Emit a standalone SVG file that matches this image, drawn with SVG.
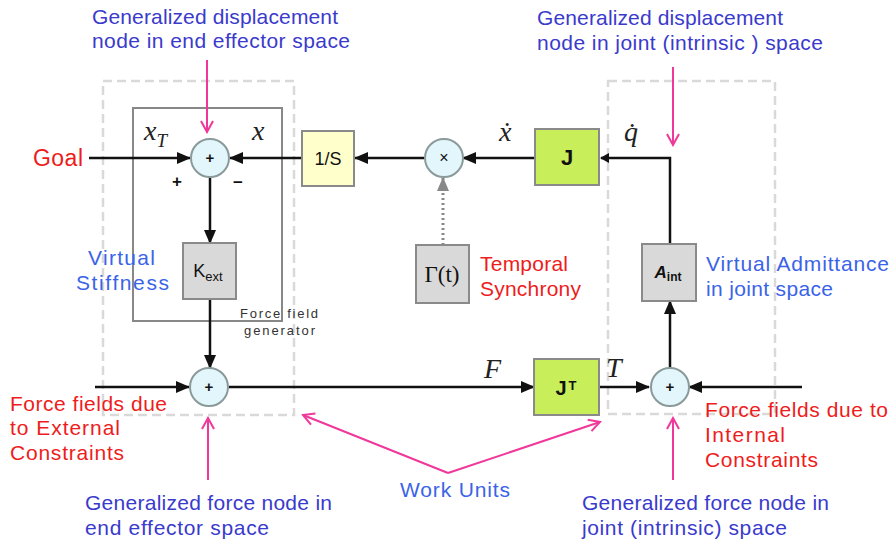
<svg xmlns="http://www.w3.org/2000/svg" width="892" height="542" viewBox="0 0 892 542">
<defs>
<marker id="ah" markerWidth="14" markerHeight="12" refX="13" refY="6" orient="auto" markerUnits="userSpaceOnUse"><path d="M0,0 L14,6 L0,12 Z" fill="#111"/></marker>
<marker id="ahs" markerWidth="9" markerHeight="10" refX="8" refY="5" orient="auto" markerUnits="userSpaceOnUse"><path d="M0,0 L9,5 L0,10 Z" fill="#111"/></marker>
<marker id="ahg" markerWidth="14" markerHeight="12" refX="13" refY="6" orient="auto" markerUnits="userSpaceOnUse"><path d="M0,0 L14,6 L0,12 Z" fill="#888"/></marker>
<marker id="ahp" markerWidth="14" markerHeight="14" refX="12" refY="7" orient="auto" markerUnits="userSpaceOnUse"><path d="M1,1 L12,7 L1,13" fill="none" stroke="#f0389a" stroke-width="2"/></marker>
</defs>
<style>
.t{font-family:"Liberation Sans",Arial,sans-serif;font-size:21px}
.red{fill:#ee1c1c}
.dblue{fill:#3a3acc}
.lblue{fill:#3b63e8}
.m{font-family:"Liberation Serif","DejaVu Serif",serif;font-style:italic;font-size:28px;fill:#222}
.sum{fill:#e2f6fb;stroke:#8a9a9a;stroke-width:2}
.blk{stroke:#8a8a8a;stroke-width:2}
.c{stroke:#111;stroke-width:2.5;fill:none}
.p{stroke:#f0389a;stroke-width:2;fill:none}
.dash{fill:none;stroke:#d9d9d9;stroke-width:2.5;stroke-dasharray:9 5}
.bt{font-family:"Liberation Sans",Arial,sans-serif;fill:#111;text-anchor:middle}
</style>
<rect width="892" height="542" fill="#fff"/>

<g id="dashed-boxes">
<rect class="dash" x="103" y="81" width="191" height="334"/>
<rect class="dash" x="608" y="81" width="167" height="333"/>
</g>
<g id="force-field-generator">
<rect x="133" y="108" width="149" height="213" fill="none" stroke="#888" stroke-width="2"/>
<text class="t" x="240" y="318" textLength="78" style="font-size:13px;fill:#333">Force field</text>
<text class="t" x="244" y="335" textLength="71" style="font-size:13px;fill:#333">generator</text>
</g>

<g id="connectors">
<line class="c" x1="89" y1="158" x2="190" y2="158" marker-end="url(#ah)"/>
<line class="c" x1="302" y1="158" x2="230" y2="158" marker-end="url(#ah)"/>
<line class="c" x1="424" y1="158" x2="355" y2="158" marker-end="url(#ah)"/>
<line class="c" x1="535" y1="158" x2="463" y2="158" marker-end="url(#ah)"/>
<line class="c" x1="210" y1="177" x2="210" y2="243" marker-end="url(#ah)"/>
<line class="c" x1="210" y1="299" x2="210" y2="368" marker-end="url(#ah)"/>
<line class="c" x1="95" y1="387" x2="189" y2="387" marker-end="url(#ah)"/>
<line class="c" x1="229" y1="387" x2="534" y2="387" marker-end="url(#ah)"/>
<line class="c" x1="599" y1="387" x2="649" y2="387" marker-end="url(#ah)"/>
<line class="c" x1="802" y1="387" x2="689" y2="387" marker-end="url(#ah)"/>
<line class="c" x1="670" y1="368" x2="670" y2="301" marker-end="url(#ah)"/>
<polyline class="c" points="670,244 670,158 601,158" marker-end="url(#ahs)"/>
<line x1="443" y1="245" x2="443" y2="178" stroke="#888" stroke-width="3" stroke-dasharray="2 3" marker-end="url(#ahg)"/>
<line class="p" x1="207" y1="60" x2="207" y2="132" marker-end="url(#ahp)"/>
<line class="p" x1="673" y1="67" x2="673" y2="145" marker-end="url(#ahp)"/>
<line class="p" x1="208" y1="480" x2="208" y2="418" marker-end="url(#ahp)"/>
<line class="p" x1="673" y1="480" x2="673" y2="418" marker-end="url(#ahp)"/>
<line class="p" x1="448" y1="473" x2="303" y2="415" marker-end="url(#ahp)"/>
<line class="p" x1="448" y1="473" x2="600" y2="422" marker-end="url(#ahp)"/>
</g>

<g id="sum-top">
<circle class="sum" cx="210" cy="158" r="19"/>
<text class="bt" x="210" y="163" style="font-size:15px;font-weight:bold">+</text>
</g>
<g id="sum-bottom-left">
<circle class="sum" cx="209" cy="387" r="19"/>
<text class="bt" x="209" y="392" style="font-size:15px;font-weight:bold">+</text>
</g>
<g id="sum-bottom-right">
<circle class="sum" cx="670" cy="387" r="19"/>
<text class="bt" x="670" y="392" style="font-size:15px;font-weight:bold">+</text>
</g>
<g id="mult">
<circle class="sum" cx="444" cy="158" r="19"/>
<text class="bt" x="444" y="163" style="font-size:16px">×</text>
</g>
<g id="integrator">
<rect class="blk" x="302" y="131" width="52" height="55" fill="#ffffcc"/>
<text class="bt" x="328" y="165" style="font-size:18px">1/S</text>
</g>
<g id="J">
<rect class="blk" x="535" y="129" width="64" height="56" fill="#c8ee5a"/>
<text class="bt" x="567" y="165" style="font-size:22px;font-weight:bold">J</text>
</g>
<g id="JT">
<rect class="blk" x="534" y="359" width="65" height="56" fill="#c8ee5a"/>
<text class="bt" x="566" y="395" style="font-size:20px;font-weight:bold">J<tspan dx="2" dy="-5" style="font-size:13px">T</tspan></text>
</g>
<g id="Gamma">
<rect class="blk" x="416" y="245" width="53" height="58" fill="#d9d9d9"/>
<text class="bt" x="442" y="282" style="font-size:23px;font-family:'Liberation Serif',serif">Γ(t)</text>
</g>
<g id="Kext">
<rect class="blk" x="183" y="243" width="53" height="56" fill="#d9d9d9"/>
<text class="bt" x="208" y="277" style="font-size:18px">K<tspan dy="4" style="font-size:13px">ext</tspan></text>
</g>
<g id="Aint">
<rect class="blk" x="642" y="244" width="54" height="57" fill="#d9d9d9"/>
<text class="bt" x="668" y="278" style="font-size:17px;font-weight:bold;font-style:italic">A<tspan dy="3" style="font-size:12px;font-style:normal">int</tspan></text>
</g>

<g id="math-labels">
<text class="m" x="144" y="140">x<tspan dy="7" style="font-size:19px">T</tspan></text>
<text class="m" x="252" y="140">x</text>
<text class="m" x="499" y="141">ẋ</text>
<text class="m" x="624" y="141">q̇</text>
<text class="m" x="484" y="378">F</text>
<text class="m" x="606" y="377">T</text>
<text class="bt" x="177" y="187" style="font-size:17px;font-weight:bold">+</text>
<text class="bt" x="238" y="188" style="font-size:17px;font-weight:bold">−</text>
</g>

<g id="labels">
<text class="t dblue" x="92" y="24" textLength="246">Generalized displacement</text>
<text class="t dblue" x="92" y="48" textLength="258">node in end effector space</text>
<text class="t dblue" x="537" y="25" textLength="246">Generalized displacement</text>
<text class="t dblue" x="537" y="50" textLength="286">node in joint (intrinsic ) space</text>
<text class="t red" x="33" y="166" textLength="50" style="font-size:23px">Goal</text>
<text class="t lblue" x="88" y="265" textLength="67">Virtual</text>
<text class="t lblue" x="76" y="290" textLength="93">Stiffness</text>
<text class="t red" x="480" y="271" textLength="88">Temporal</text>
<text class="t red" x="480" y="296" textLength="101">Synchrony</text>
<text class="t lblue" x="706" y="271" textLength="183">Virtual Admittance</text>
<text class="t lblue" x="706" y="296" textLength="127">in joint space</text>
<text class="t red" x="10" y="411" textLength="157">Force fields due</text>
<text class="t red" x="10" y="435" textLength="110">to External</text>
<text class="t red" x="10" y="460" textLength="114">Constraints</text>
<text class="t red" x="705" y="417" textLength="183">Force fields due to</text>
<text class="t red" x="705" y="442" textLength="80">Internal</text>
<text class="t red" x="705" y="467" textLength="113">Constraints</text>
<text class="t lblue" x="400" y="497" textLength="110">Work Units</text>
<text class="t dblue" x="85" y="510" textLength="247">Generalized force node in</text>
<text class="t dblue" x="85" y="535" textLength="184">end effector space</text>
<text class="t dblue" x="582" y="510" textLength="247">Generalized force node in</text>
<text class="t dblue" x="582" y="535" textLength="205">joint (intrinsic) space</text>
</g>
</svg>
